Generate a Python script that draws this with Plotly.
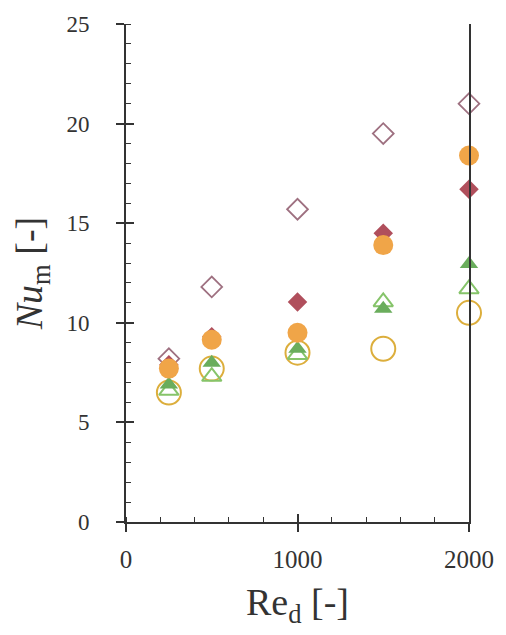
import plotly.graph_objects as go

# ---- data ----
re_d = [250, 500, 1000, 1500, 2000]
nu_open_diamond = [8.2, 11.8, 15.7, 19.5, 21.0]
nu_filled_diamond = [7.9, 9.3, 11.05, 14.5, 16.7]
nu_open_circle = [6.5, 7.7, 8.5, 8.7, 10.5]
nu_open_triangle = [6.6, 7.3, 8.4, 11.05, 11.7]
nu_filled_triangle = [6.9, 8.0, 8.7, 10.7, 12.95]
nu_orange_circle = [7.7, 9.15, 9.5, 13.9, 18.4]

x_range = [0, 2000]
y_range = [0, 25]

AX = "#333333"
FONT = "'Liberation Serif', 'Times New Roman', Times, 'DejaVu Serif', serif"

fig = go.Figure()

def add(y, symbol, size, fill, line_color, lw):
    fig.add_trace(go.Scatter(
        x=re_d, y=y, mode="markers", showlegend=False,
        marker=dict(symbol=symbol, size=size, color=fill,
                    line=dict(color=line_color, width=lw)),
        cliponaxis=False,
    ))

add(nu_open_diamond, "diamond-open", 16, "#9e7080", "#9e7080", 1.8)
add(nu_filled_diamond, "diamond", 15, "#b04f5c", "#b04f5c", 0)
add(nu_open_circle, "circle-open", 24, "#dcae3c", "#dcae3c", 2)
add(nu_open_triangle, "triangle-up-open", 17, "#86c46a", "#86c46a", 2)
add(nu_filled_triangle, "triangle-up", 16, "#6aad5c", "#6aad5c", 0)
add(nu_orange_circle, "circle", 20, "#f0a548", "#f0a548", 0)

# helper (empty) trace so overlay axes render
fig.add_trace(go.Scatter(x=[], y=[], xaxis="x2", yaxis="y2", showlegend=False,
                         hoverinfo="skip"))

fig.update_layout(
    width=506, height=635,
    margin=dict(l=126, r=32, t=20, b=113),
    paper_bgcolor="white", plot_bgcolor="white",
    font=dict(family=FONT, color=AX),
    xaxis=dict(
        range=x_range, dtick=1000, tick0=0,
        showgrid=False, zeroline=False,
        showline=True, linecolor=AX, linewidth=2,
        ticks="outside", ticklen=8, tickwidth=1.5, tickcolor=AX,
        minor=dict(ticks="inside", dtick=200, ticklen=5, tickwidth=1.2,
                   tickcolor=AX, showgrid=False),
        tickfont=dict(family=FONT, size=25, color=AX),
        ticklabelstandoff=6,
        title=dict(text="Re<sub>d</sub> [-]",
                   font=dict(family=FONT, size=38, color=AX), standoff=16),
    ),
    yaxis=dict(
        range=y_range, dtick=5, tick0=0,
        showgrid=False, zeroline=False,
        showline=True, linecolor=AX, linewidth=2, mirror=True,
        ticks="outside", ticklen=8, tickwidth=1.5, tickcolor=AX,
        minor=dict(ticks="inside", dtick=1, ticklen=5, tickwidth=1.2,
                   tickcolor=AX, showgrid=False),
        tickfont=dict(family=FONT, size=23, color=AX),
        ticklabelstandoff=22,
        title=dict(text="<i>Nu</i><sub>m</sub> [-]",
                   font=dict(family=FONT, size=38, color=AX), standoff=12),
    ),
    xaxis2=dict(range=x_range, overlaying="x", anchor="y", side="bottom",
                dtick=1000, ticks="inside", ticklen=8, tickwidth=1.5,
                tickcolor=AX, showticklabels=False, showgrid=False,
                zeroline=False, showline=False),
    yaxis2=dict(range=y_range, overlaying="y", anchor="x", side="left",
                dtick=5, ticks="inside", ticklen=8, tickwidth=1.5,
                tickcolor=AX, showticklabels=False, showgrid=False,
                zeroline=False, showline=False),
)

fig.write_html("out.html")
